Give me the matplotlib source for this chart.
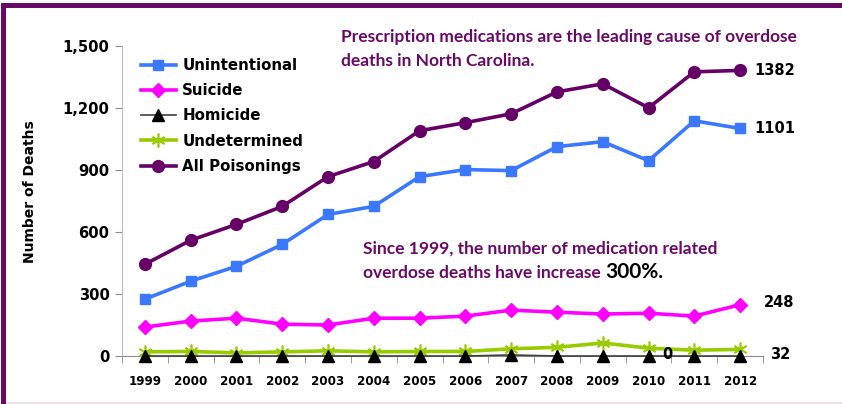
import matplotlib
matplotlib.use("Agg")
import matplotlib.pyplot as plt
from matplotlib.patches import Rectangle
from matplotlib.ticker import FuncFormatter, FixedLocator

years = [1999, 2000, 2001, 2002, 2003, 2004, 2005, 2006, 2007, 2008, 2009, 2010, 2011, 2012]
unintentional = [275, 362, 434, 540, 685, 724, 868, 902, 897, 1013, 1037, 945, 1138, 1101]
suicide = [140, 169, 183, 154, 150, 183, 183, 193, 222, 212, 203, 207, 193, 248]
homicide = [0, 0, 0, 0, 0, 0, 0, 0, 5, 0, 0, 0, 0, 0]
undetermined = [20, 22, 15, 20, 25, 20, 22, 22, 35, 42, 63, 38, 28, 32]
all_poisonings = [444, 560, 637, 724, 868, 941, 1090, 1129, 1172, 1278, 1317, 1201, 1375, 1382]

PURPLE = "#6a0a68"
W, H = 842, 404

fig = plt.figure(figsize=(W / 100, H / 100), dpi=100)
fig.patch.set_facecolor("white")

# purple frame (left and top edges) and faint bottom line
fig.patches.append(Rectangle((1 / W, 0), 5 / W, 1 - 3 / H, transform=fig.transFigure,
                             facecolor=PURPLE, edgecolor="none"))
fig.patches.append(Rectangle((1 / W, 1 - 8 / H), 1, 5 / H, transform=fig.transFigure,
                             facecolor=PURPLE, edgecolor="none"))
fig.patches.append(Rectangle((6 / W, 0), 1, 2 / H, transform=fig.transFigure,
                             facecolor="#ecdcec", edgecolor="none"))

ax = fig.add_axes([122 / W, 48 / H, (763 - 122) / W, (356 - 46) / H])
x = list(range(len(years)))

ax.plot(x, unintentional, color="#3a78ff", lw=2.6, marker="s", ms=7.5, label="Unintentional", zorder=4)
ax.plot(x, suicide, color="#ff00ff", lw=2.6, marker="D", ms=7.5, label="Suicide", zorder=4)
ax.plot(x, homicide, color="#404040", lw=1.2, marker="^", ms=8, mfc="black", mec="black",
        label="Homicide", zorder=5, clip_on=False)
ax.plot(x, undetermined, color="#99cc00", lw=2.6, marker=(6, 2, 0), ms=10, mew=1.2,
        label="Undetermined", zorder=4)
ax.plot(x, all_poisonings, color="#660066", lw=2.6, marker="o", ms=8.5, label="All Poisonings", zorder=4)

ax.set_xlim(-0.5, len(years) - 0.5)
ax.set_ylim(0, 1500)
ax.set_yticks([0, 300, 600, 900, 1200, 1500])
ax.yaxis.set_major_formatter(FuncFormatter(lambda v, p: f"{int(v):,}"))
ax.set_xticks(x)
ax.set_xticklabels([str(y) for y in years])
ax.xaxis.set_minor_locator(FixedLocator([i - 0.5 for i in range(len(years) + 1)]))

for s in ["top", "right"]:
    ax.spines[s].set_visible(False)
ax.spines["left"].set_color("#bdbdbd")
ax.spines["bottom"].set_color("#8c8c8c")
ax.tick_params(axis="y", length=5, color="#8c8c8c", pad=4, labelsize=10.6)
ax.tick_params(axis="x", which="major", length=0, pad=14, labelsize=8.6)
ax.tick_params(axis="x", which="minor", length=5, color="#8c8c8c")
for lab in ax.get_xticklabels() + ax.get_yticklabels():
    lab.set_fontweight("bold")

fig.text(30 / W, 1 - 192 / H, "Number of Deaths", rotation=90, ha="center", va="center",
         fontsize=10, fontweight="bold")

leg = fig.legend(*ax.get_legend_handles_labels(), loc="upper left",
                 bbox_to_anchor=(141 / W, 1 - 58 / H), frameon=False,
                 prop={"weight": "bold", "size": 10.8}, handlelength=2.3,
                 labelspacing=0.68, handletextpad=0.45, borderpad=0, borderaxespad=0)

# end value labels
last = len(years) - 1
lab_style = dict(va="center", ha="left", fontsize=10.5, fontweight="bold", clip_on=False)
ax.text(last + 0.32, all_poisonings[-1], f"{all_poisonings[-1]}", **lab_style)
ax.text(last + 0.32, unintentional[-1], f"{unintentional[-1]}", **lab_style)
ax.text(last + 0.52, suicide[-1] + 10, f"{suicide[-1]}", **lab_style)
ax.text(last + 0.65, 5, f"{undetermined[-1]}", **lab_style)
ax.text(11.42, 5, f"{homicide[-1]}", va="center", ha="center", fontsize=10.5,
        fontweight="bold", zorder=7)

note = dict(family="Lato", fontweight="bold", color="#6a0a68", fontsize=12.5)
fig.text(341 / W, 1 - 37 / H, "Prescription medications are the leading cause of overdose",
         va="center", ha="left", **note)
fig.text(341 / W, 1 - 61 / H, "deaths in North Carolina.", va="center", ha="left", **note)
fig.text(363 / W, 1 - 249 / H, "Since 1999, the number of medication related",
         va="center", ha="left", **note)
t = fig.text(363 / W, 1 - 273 / H, "overdose deaths have increase ", va="center", ha="left", **note)
fig.canvas.draw()
bb = t.get_window_extent()
fig.text(bb.x1 / W, 1 - 272 / H, "300%.", va="center", ha="left", family="Lato",
         fontweight="bold", fontsize=15, color="black")

fig.savefig("out.png", dpi=100)
